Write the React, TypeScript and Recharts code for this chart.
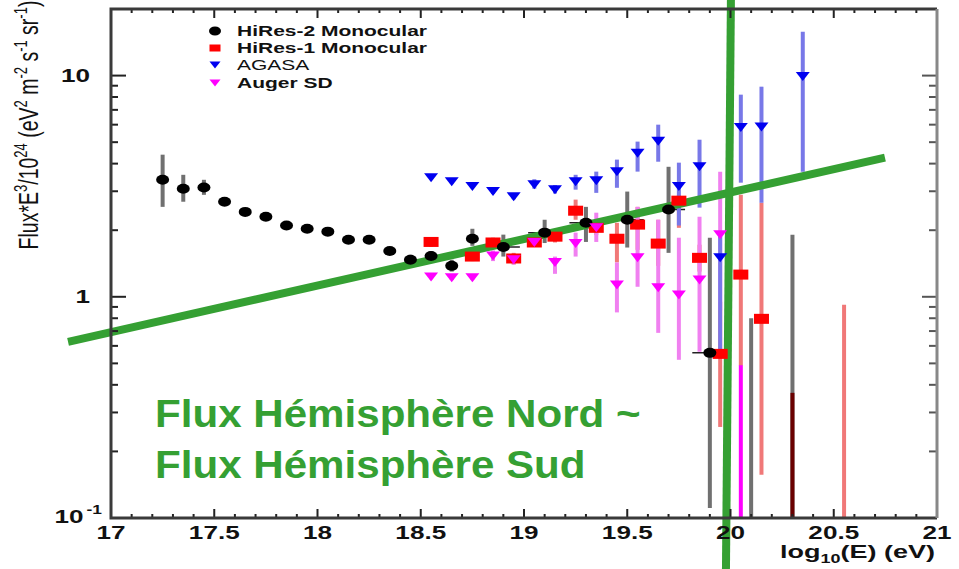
import React from 'react';
import {
  ComposedChart,
  Scatter,
  XAxis,
  YAxis,
  ErrorBar,
  ReferenceLine,
  Legend,
} from 'recharts';

// HiRes-2 Monocular (black dots)
const hires2E = [17.25, 17.35, 17.45, 17.55, 17.65, 17.75, 17.85, 17.95, 18.05, 18.15, 18.25, 18.35, 18.45, 18.55, 18.65, 18.75, 18.9, 19.1, 19.3, 19.5, 19.7, 19.9];
const hires2Flux = [3.38, 3.08, 3.12, 2.69, 2.42, 2.3, 2.1, 2.03, 1.97, 1.81, 1.81, 1.61, 1.47, 1.53, 1.38, 1.83, 1.68, 1.95, 2.16, 2.23, 2.48, 0.558];
const hires2Low = [2.55, 2.69, 2.89, 2.6, 2.35, 2.24, 2.05, 1.98, 1.92, 1.76, 1.75, 1.55, 1.4, 1.46, 1.3, 1.7, 1.52, 1.75, 1.77, 1.67, 1.58, 0.111];
const hires2High = [4.39, 3.56, 3.38, 2.78, 2.49, 2.36, 2.15, 2.08, 2.02, 1.86, 1.87, 1.68, 1.55, 1.61, 1.47, 2.03, 1.91, 2.23, 2.55, 2.99, 3.87, 1.85];
const hires2HalfBin = [0, 0, 0, 0, 0, 0, 0, 0, 0, 0, 0, 0, 0, 0, 0, 0, 0.08, 0.08, 0.08, 0.08, 0.08, 0.085];

// HiRes-1 Monocular (red squares)
const hires1E = [18.55, 18.75, 18.85, 18.95, 19.05, 19.15, 19.25, 19.35, 19.45, 19.55, 19.65, 19.75, 19.85, 19.95, 20.05, 20.15];
const hires1Flux = [1.77, 1.52, 1.76, 1.49, 1.76, 1.87, 2.45, 2.05, 1.83, 2.12, 1.74, 2.72, 1.5, 0.552, 1.26, 0.795];
const hires1Low = [1.68, 1.45, 1.68, 1.4, 1.68, 1.76, 2.23, 1.9, 1.43, 1.63, 1.38, 2.05, 1.3, 0.258, 0.49, 0.157];
const hires1High = [1.86, 1.6, 1.85, 1.58, 1.85, 1.98, 2.75, 2.22, 2.16, 2.55, 2.23, 2.89, 1.72, 0.95, 2.89, 2.66];

// AGASA (blue triangles)
const agasaE = [18.55, 18.65, 18.75, 18.85, 18.95, 19.05, 19.15, 19.25, 19.35, 19.45, 19.55, 19.65, 19.75, 19.85, 19.95, 20.05, 20.15, 20.35];
const agasaFlux = [3.45, 3.31, 3.15, 2.99, 2.83, 3.21, 3.05, 3.31, 3.35, 3.68, 4.46, 5.05, 3.15, 3.87, 1.5, 5.82, 5.85, 9.9];
const agasaLow = [3.4, 3.26, 3.1, 2.92, 2.76, 3.08, 2.93, 3.05, 2.95, 3.11, 3.68, 4.08, 2.1, 2.53, 0.57, 3.28, 2.66, 3.68];
const agasaHigh = [3.5, 3.36, 3.2, 3.06, 2.9, 3.4, 3.2, 3.56, 3.68, 4.17, 5.03, 6.0, 4.04, 5.13, 1.95, 8.2, 8.91, 15.8];

// Auger SD (magenta triangles)
const augerE = [18.55, 18.65, 18.75, 18.85, 18.95, 19.05, 19.15, 19.25, 19.35, 19.45, 19.55, 19.65, 19.75, 19.85, 19.95];
const augerFlux = [1.23, 1.22, 1.22, 1.53, 1.47, 1.76, 1.43, 1.74, 2.05, 1.13, 1.5, 1.1, 1.02, 1.19, 1.91];
const augerLow = [1.2, 1.19, 1.19, 1.45, 1.4, 1.68, 1.27, 1.52, 1.77, 0.85, 1.11, 0.687, 0.519, 0.564, 0.87];
const augerHigh = [1.26, 1.25, 1.25, 1.62, 1.55, 1.85, 1.52, 1.95, 2.4, 1.43, 2.55, 2.23, 1.85, 2.3, 3.68];

// error bars whose central value falls below the plot (no marker drawn)
const hires2OpenE = [20.1, 20.3];
const hires2OpenLow = [0.1, 0.1];
const hires2OpenHigh = [0.8, 1.91];
const hires1OpenE = [20.55];
const hires1OpenLow = [0.1];
const hires1OpenHigh = [0.92];
const hires1DarkE = [20.3];
const hires1DarkLow = [0.1];
const hires1DarkHigh = [0.368];
const augerOpenE = [20.05];
const augerOpenLow = [0.1];
const augerOpenHigh = [0.492];

// axes
const xDomain = [17, 21];
const yDomain = [0.1, 20];
const xTicks = [17, 17.1, 17.2, 17.3, 17.4, 17.5, 17.6, 17.7, 17.8, 17.9, 18, 18.1, 18.2, 18.3, 18.4, 18.5, 18.6, 18.7, 18.8, 18.9, 19, 19.1, 19.2, 19.3, 19.4, 19.5, 19.6, 19.7, 19.8, 19.9, 20, 20.1, 20.2, 20.3, 20.4, 20.5, 20.6, 20.7, 20.8, 20.9, 21];
const xMajorTicks = [17, 17.5, 18, 18.5, 19, 19.5, 20, 20.5, 21];
const yTicks = [0.1, 0.2, 0.3, 0.4, 0.5, 0.6, 0.7, 0.8, 0.9, 1, 2, 3, 4, 5, 6, 7, 8, 9, 10];
const yMajorTicks = [0.1, 1, 10];

// green annotation (two hand-drawn lines)
const crossVertical = [{ x: 20.002, y: 22.1 }, { x: 19.978, y: 0.0588 }];
const crossSlope = [{ x: 16.792, y: 0.626 }, { x: 20.748, y: 4.26 }];

const legendItems = [
  { name: 'HiRes-2 Monocular', kind: 'circle', color: '#000000', bold: true },
  { name: 'HiRes-1 Monocular', kind: 'square', color: '#ff0000', bold: true },
  { name: 'AGASA', kind: 'tri', color: '#0000f0', bold: false },
  { name: 'Auger SD', kind: 'tri', color: '#ff00ff', bold: true },
];

const GREEN = '#35a033';
const FONT = '"Liberation Sans", Arial, Helvetica, sans-serif';
const SX = 1.45; // the original figure is stretched sideways

// plot frame (matches chart margins + axis sizes below)
const PLOT_LEFT = 111;
const PLOT_RIGHT = 937;
const PLOT_TOP = 9;
const PLOT_BOTTOM = 518;

const rows = (e: number[], f: number[], lo: number[], hi: number[], half?: number[]) =>
  e.map((x, i) => ({
    x,
    y: f[i],
    yErr: [f[i] - lo[i], hi[i] - f[i]],
    xErr: half ? half[i] : 0,
  }));

const openRows = (e: number[], lo: number[], hi: number[]) =>
  e.map((x, i) => ({ x, y: hi[i], yErr: [hi[i] - lo[i], 0] }));

const isMajorX = (v: number) => xMajorTicks.some((m) => Math.abs(m - v) < 1e-6);
const isMajorY = (v: number) => yMajorTicks.some((m) => Math.abs(m - v) < 1e-9);

const Dot = (p: any) => <ellipse cx={p.cx} cy={p.cy} rx={6.5} ry={5} fill="#000" />;
const Square = (p: any) => <rect x={p.cx - 7.5} y={p.cy - 5} width={15} height={10} fill="#ff0000" />;
const triangle = (color: string) => (p: any) => (
  <polygon
    points={`${p.cx - 7},${p.cy - 4.5} ${p.cx + 7},${p.cy - 4.5} ${p.cx},${p.cy + 4.5}`}
    fill={color}
  />
);
const Nothing = () => <g />;

const fmtX = (v: number) => (Number.isInteger(v) ? String(v) : v.toFixed(1));

// bottom axis tick: label + inward tick, plus the mirrored tick on the top edge
const XTick = ({ x, payload }: any) => {
  const major = isMajorX(payload.value);
  const len = major ? 9 : 4;
  return (
    <g>
      <path d={`M${x},${PLOT_BOTTOM}V${PLOT_BOTTOM - len}M${x},${PLOT_TOP}V${PLOT_TOP + len}`} stroke="#222" strokeWidth={2} fill="none" />
      {major && (
        <text
          transform={`translate(${x},${PLOT_BOTTOM + 21}) scale(${SX},1)`}
          textAnchor="middle"
          fontFamily={FONT}
          fontWeight="bold"
          fontSize={18}
          fill="#111"
        >
          {fmtX(payload.value)}
        </text>
      )}
    </g>
  );
};

// left axis tick: label + inward tick, plus the mirrored tick on the right edge
const YTick = ({ y, payload }: any) => {
  const v = payload.value;
  const major = isMajorY(v);
  return (
    <g>
      <path d={`M${PLOT_LEFT},${y}H${PLOT_LEFT + (major ? 15 : 7)}`} stroke="#222" strokeWidth={2} fill="none" />
      <path d={`M${PLOT_RIGHT},${y}H${PLOT_RIGHT - (major ? 15 : 8)}`} stroke="#555" strokeWidth={2} fill="none" />
      {major && v !== 0.1 && (
        <text
          transform={`translate(${PLOT_LEFT - 21},${y + 6.5}) scale(${SX},1)`}
          textAnchor="end"
          fontFamily={FONT}
          fontWeight="bold"
          fontSize={18}
          fill="#111"
        >
          {String(v)}
        </text>
      )}
      {v === 0.1 && (
        <text
          transform={`translate(${PLOT_LEFT - 9},${y + 5}) scale(${SX},1)`}
          textAnchor="end"
          fontFamily={FONT}
          fontWeight="bold"
          fontSize={18}
          fill="#111"
        >
          10
          <tspan dx={2} dy={-9} fontSize={12}>-1</tspan>
        </text>
      )}
    </g>
  );
};

const LegendBox = () => (
  <svg width={260} height={80}>
    {legendItems.map((it, i) => {
      const cy = [13, 30, 47, 65][i];
      const cx = 25;
      let mark;
      if (it.kind === 'circle') mark = <ellipse cx={cx} cy={cy} rx={6} ry={4.5} fill={it.color} />;
      else if (it.kind === 'square') mark = <rect x={cx - 5.5} y={cy - 3.5} width={11} height={7} fill={it.color} />;
      else mark = <polygon points={`${cx - 5.5},${cy - 3.5} ${cx + 5.5},${cy - 3.5} ${cx},${cy + 3.5}`} fill={it.color} />;
      return (
        <g key={it.name}>
          {mark}
          <text
            transform={`translate(47,${cy + 5}) scale(1.5,1)`}
            fontFamily={FONT}
            fontWeight={it.bold ? 'bold' : 'normal'}
            fontSize={14}
            fill="#111"
          >
            {it.name}
          </text>
        </g>
      );
    })}
  </svg>
);

export default function App() {
  const hires2 = rows(hires2E, hires2Flux, hires2Low, hires2High, hires2HalfBin);
  const hires1 = rows(hires1E, hires1Flux, hires1Low, hires1High);
  const agasa = rows(agasaE, agasaFlux, agasaLow, agasaHigh);
  const auger = rows(augerE, augerFlux, augerLow, augerHigh);
  const hires2Open = openRows(hires2OpenE, hires2OpenLow, hires2OpenHigh);
  const hires1Open = openRows(hires1OpenE, hires1OpenLow, hires1OpenHigh);
  const hires1Dark = openRows(hires1DarkE, hires1DarkLow, hires1DarkHigh);
  const augerOpen = openRows(augerOpenE, augerOpenLow, augerOpenHigh);

  return (
    <div style={{ position: 'absolute', left: 0, top: 0, width: 959, height: 569, background: '#fff' }}>
      <ComposedChart
        width={959}
        height={569}
        margin={{ top: PLOT_TOP, right: 959 - PLOT_RIGHT, bottom: 0, left: 0 }}
      >
        <XAxis
          type="number"
          dataKey="x"
          domain={xDomain}
          allowDataOverflow
          ticks={xTicks}
          interval={0}
          height={569 - PLOT_BOTTOM}
          tickLine={false}
          tick={XTick}
          axisLine={false}
        />
        <YAxis
          type="number"
          scale="log"
          domain={yDomain}
          allowDataOverflow
          ticks={yTicks}
          interval={0}
          width={PLOT_LEFT}
          tickLine={false}
          tick={YTick}
          axisLine={false}
        />

        <Scatter data={hires2Open} dataKey="y" shape={Nothing} isAnimationActive={false}>
          <ErrorBar dataKey="yErr" direction="y" width={0} stroke="#707070" strokeWidth={4} />
        </Scatter>
        <Scatter data={hires1Open} dataKey="y" shape={Nothing} isAnimationActive={false}>
          <ErrorBar dataKey="yErr" direction="y" width={0} stroke="#f07878" strokeWidth={4} />
        </Scatter>
        <Scatter data={hires1Dark} dataKey="y" shape={Nothing} isAnimationActive={false}>
          <ErrorBar dataKey="yErr" direction="y" width={0} stroke="#6a0000" strokeWidth={4} />
        </Scatter>
        <Scatter data={augerOpen} dataKey="y" shape={Nothing} isAnimationActive={false}>
          <ErrorBar dataKey="yErr" direction="y" width={0} stroke="#ff00ff" strokeWidth={4} />
        </Scatter>

        <Scatter name="HiRes-1 Monocular" data={hires1} dataKey="y" shape={Square} isAnimationActive={false}>
          <ErrorBar dataKey="yErr" direction="y" width={0} stroke="#f07878" strokeWidth={4} />
        </Scatter>
        <Scatter name="HiRes-2 Monocular" data={hires2} dataKey="y" shape={Dot} isAnimationActive={false}>
          <ErrorBar dataKey="yErr" direction="y" width={0} stroke="#707070" strokeWidth={4} />
          <ErrorBar dataKey="xErr" direction="x" width={0} stroke="#222" strokeWidth={1.5} />
        </Scatter>
        <Scatter name="Auger SD" data={auger} dataKey="y" shape={triangle('#ff00ff')} isAnimationActive={false}>
          <ErrorBar dataKey="yErr" direction="y" width={0} stroke="#f080f0" strokeWidth={4} />
        </Scatter>
        <Scatter name="AGASA" data={agasa} dataKey="y" shape={triangle('#0000f0')} isAnimationActive={false}>
          <ErrorBar dataKey="yErr" direction="y" width={0} stroke="#7878e8" strokeWidth={4} />
        </Scatter>

        <ReferenceLine segment={crossSlope} ifOverflow="visible" stroke={GREEN} strokeWidth={8} />
        <ReferenceLine segment={crossVertical} ifOverflow="visible" stroke={GREEN} strokeWidth={8} />

        <Legend
          layout="vertical"
          align="center"
          verticalAlign="middle"
          content={LegendBox}
          wrapperStyle={{ left: 190, top: 18, width: 260, height: 80 }}
        />
      </ComposedChart>

      <svg
        width={959}
        height={569}
        style={{ position: 'absolute', left: 0, top: 0, pointerEvents: 'none' }}
      >
        {/* ROOT-style frame: dark on three sides, grey on the right */}
        <path
          d={`M${PLOT_RIGHT},${PLOT_TOP}H${PLOT_LEFT}V${PLOT_BOTTOM}H${PLOT_RIGHT}`}
          stroke="#3a3a3a"
          strokeWidth={3}
          fill="none"
        />
        <path d={`M${PLOT_RIGHT},${PLOT_TOP}V${PLOT_BOTTOM}`} stroke="#888" strokeWidth={3} fill="none" />

        <text
          transform={`translate(28,125) scale(${SX},1) rotate(-90)`}
          y={7}
          textAnchor="middle"
          fontFamily={FONT}
          fontSize={19.5}
          fill="#111"
        >
          Flux*E
          <tspan dy={-7.5} fontSize={13}>3</tspan>
          <tspan dy={7.5}>/10</tspan>
          <tspan dy={-7.5} fontSize={13}>24</tspan>
          <tspan dy={7.5}> (eV</tspan>
          <tspan dy={-7.5} fontSize={13}>2</tspan>
          <tspan dy={7.5}> m</tspan>
          <tspan dy={-7.5} fontSize={13}>-2</tspan>
          <tspan dy={7.5}> s</tspan>
          <tspan dy={-7.5} fontSize={13}>-1</tspan>
          <tspan dy={7.5}> sr</tspan>
          <tspan dy={-7.5} fontSize={13}>-1</tspan>
          <tspan dy={7.5}>)</tspan>
        </text>
        <text
          transform="translate(935,558) scale(1.5,1)"
          textAnchor="end"
          fontFamily={FONT}
          fontWeight="bold"
          fontSize={18}
          fill="#111"
        >
          log
          <tspan dy={5} fontSize={12}>10</tspan>
          <tspan dy={-5}>(E) (eV)</tspan>
        </text>
        <text
          transform="translate(155,427) scale(1.08,1)"
          fontFamily={FONT}
          fontWeight="bold"
          fontSize={39}
          fill={GREEN}
        >
          Flux Hémisphère Nord ~
        </text>
        <text
          transform="translate(155,478) scale(1.08,1)"
          fontFamily={FONT}
          fontWeight="bold"
          fontSize={39}
          fill={GREEN}
        >
          Flux Hémisphère Sud
        </text>
      </svg>
    </div>
  );
}
